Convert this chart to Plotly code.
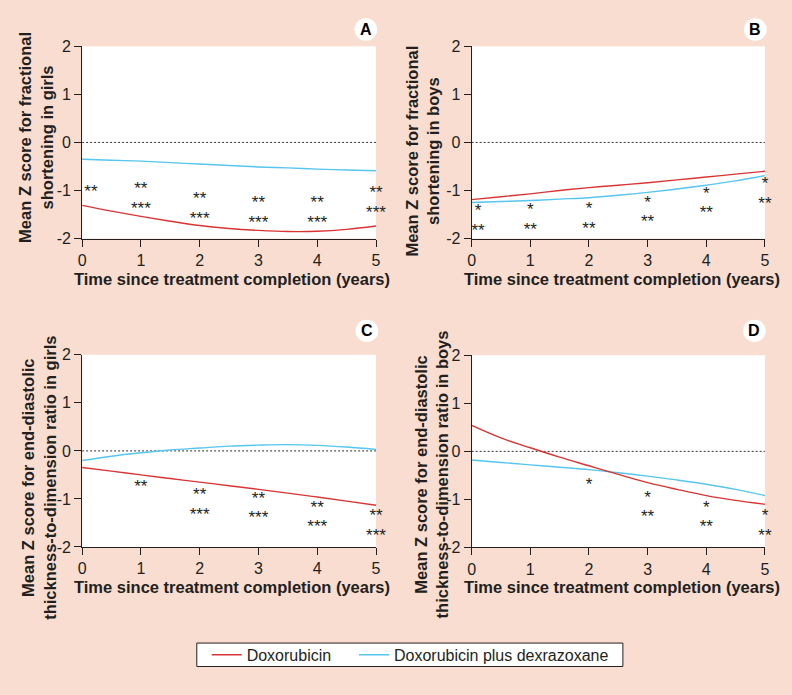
import plotly.graph_objects as go

# ---------------- data ----------------
years = [0, 1, 2, 3, 4, 5]
years_half = [0, 0.5, 1, 1.5, 2, 2.5, 3, 3.5, 4, 4.5, 5]
y_ticks = [-2, -1, 0, 1, 2]
y_ticklabels = ["-2", "-1", "0", "1", "2"]
x_ticklabels = ["0", "1", "2", "3", "4", "5"]

# Panel A: fractional shortening, girls
a_dox = [-1.31, -1.43, -1.54, -1.64, -1.73, -1.79, -1.83, -1.855, -1.85, -1.81, -1.74]
a_dex = [-0.35, -0.37, -0.39, -0.42, -0.45, -0.48, -0.51, -0.53, -0.555, -0.575, -0.59]
# Panel B: fractional shortening, boys
b_dox = [-1.19, -1.13, -1.07, -1.0, -0.94, -0.89, -0.84, -0.78, -0.72, -0.66, -0.60]
b_dex = [-1.25, -1.23, -1.21, -1.18, -1.15, -1.10, -1.04, -0.97, -0.89, -0.80, -0.69]
# Panel C: end-diastolic thickness-to-dimension ratio, girls
c_dox = [-0.345, -0.42, -0.50, -0.575, -0.65, -0.725, -0.80, -0.88, -0.96, -1.045, -1.13]
c_dex = [-0.20, -0.11, -0.04, 0.02, 0.06, 0.10, 0.12, 0.13, 0.115, 0.08, 0.03]
# Panel D: end-diastolic thickness-to-dimension ratio, boys
d_dox = [0.54, 0.28, 0.075, -0.12, -0.30, -0.48, -0.65, -0.79, -0.92, -1.02, -1.10]
d_dex = [-0.18, -0.23, -0.28, -0.33, -0.38, -0.445, -0.515, -0.595, -0.685, -0.79, -0.92]

# significance markers (x, y, text)
a_sig_x = [0.15, 1, 1, 2, 2, 3, 3, 4, 4, 5, 5]
a_sig_y = [-1.04, -0.99, -1.40, -1.20, -1.61, -1.28, -1.69, -1.28, -1.69, -1.07, -1.48]
a_sig_t = ["**", "**", "***", "**", "***", "**", "***", "**", "***", "**", "***"]

b_sig_x = [0.11, 0.11, 1, 1, 2, 2, 3, 3, 4, 4, 5, 5]
b_sig_y = [-1.45, -1.85, -1.42, -1.83, -1.40, -1.81, -1.28, -1.68, -1.08, -1.49, -0.88, -1.29]
b_sig_t = ["*", "**", "*", "**", "*", "**", "*", "**", "*", "**", "*", "**"]

c_sig_x = [1, 2, 2, 3, 3, 4, 4, 5, 5]
c_sig_y = [-0.76, -0.94, -1.34, -1.02, -1.42, -1.21, -1.61, -1.38, -1.78]
c_sig_t = ["**", "**", "***", "**", "***", "**", "***", "**", "***"]

d_sig_x = [2, 3, 3, 4, 4, 5, 5]
d_sig_y = [-0.72, -0.98, -1.38, -1.19, -1.60, -1.36, -1.77]
d_sig_t = ["*", "*", "**", "*", "**", "*", "**"]

series_names = ["Doxorubicin", "Doxorubicin plus dexrazoxane"]
y_titles = [
    "Mean Z score for fractional<br>shortening in girls",
    "Mean Z score for fractional<br>shortening in boys",
    "Mean Z score for end-diastolic<br>thickness-to-dimension ratio in girls",
    "Mean Z score for end-diastolic<br>thickness-to-dimension ratio in boys",
]
x_title = "Time since treatment completion (years)"
panel_letters = ["A", "B", "C", "D"]

# ---------------- style ----------------
W, H = 792, 695
BG = "#F8DDD0"
RED = "#DA3434"
BLUE = "#56C5EF"
INK = "#231F20"
FONT = "Liberation Sans, Arial, sans-serif"


def px_x(p):
    return p / W


def px_y(p):
    return 1 - p / H


# panel geometry in pixels: (left, right, top, bottom)
geo = [
    (79, 376.3, 39.3, 236.3),
    (473, 769.7, 39.3, 236.3),
    (79, 376.3, 355.5, 552.5),
    (473, 769.7, 356.0, 553.0),
]
ytitle_pos = [(32.5, 133), (423, 147), (35, 482), (432, 478)]
xtitle_pos = [(231, 278), (625, 278), (231, 594), (625, 594)]
badge_pos = [(366, 22), (760, 22), (367, 331), (759, 331)]

fig = go.Figure()

panels = [
    (a_dox, a_dex, a_sig_x, a_sig_y, a_sig_t),
    (b_dox, b_dex, b_sig_x, b_sig_y, b_sig_t),
    (c_dox, c_dex, c_sig_x, c_sig_y, c_sig_t),
    (d_dox, d_dex, d_sig_x, d_sig_y, d_sig_t),
]

layout_axes = {}
annotations = []
shapes = []

for i, (dox, dex, sx, sy, st) in enumerate(panels):
    n = "" if i == 0 else str(i + 1)
    xa, ya = "x" + n, "y" + n
    # reference zero line
    fig.add_trace(go.Scatter(x=[years[0], years[-1]], y=[0, 0], mode="lines",
                             line=dict(color="#333333", width=1, dash="2px,2px"),
                             xaxis=xa, yaxis=ya, showlegend=False, hoverinfo="skip"))
    fig.add_trace(go.Scatter(x=years_half, y=dex, mode="lines", name=series_names[1],
                             line=dict(color=BLUE, width=1.4, shape="spline"),
                             xaxis=xa, yaxis=ya, showlegend=(i == 0), legend="legend2"))
    fig.add_trace(go.Scatter(x=years_half, y=dox, mode="lines", name=series_names[0],
                             line=dict(color=RED, width=1.4, shape="spline"),
                             xaxis=xa, yaxis=ya, showlegend=(i == 0), legend="legend"))
    fig.add_trace(go.Scatter(x=sx, y=sy, mode="text", text=st, textposition="middle center",
                             textfont=dict(family=FONT, size=17, color=INK),
                             xaxis=xa, yaxis=ya, showlegend=False, hoverinfo="skip",
                             cliponaxis=False))

    l, r, t, b = geo[i]
    axis_common = dict(showline=True, linecolor=INK, linewidth=1, ticks="outside",
                       ticklen=7, tickwidth=1, tickcolor=INK, showgrid=False,
                       zeroline=False, tickfont=dict(family=FONT, size=16, color=INK),
                       fixedrange=True)
    layout_axes["xaxis" + n] = dict(domain=[px_x(l), px_x(r)], range=[0, 5],
                                    tickvals=years, ticktext=x_ticklabels,
                                    anchor=ya, **axis_common)
    layout_axes["yaxis" + n] = dict(domain=[px_y(b), px_y(t)], range=[-2, 2],
                                    tickvals=y_ticks, ticktext=y_ticklabels,
                                    anchor=xa, **axis_common)

    # axis titles
    tx, ty = ytitle_pos[i]
    annotations.append(dict(text=y_titles[i], x=px_x(tx), y=px_y(ty), xref="paper",
                            yref="paper", textangle=-90, showarrow=False,
                            xanchor="center", yanchor="middle",
                            font=dict(family=FONT, size=16.5, color=INK, weight="bold")))
    tx, ty = xtitle_pos[i]
    annotations.append(dict(text=x_title, x=px_x(tx), y=px_y(ty), xref="paper",
                            yref="paper", showarrow=False, xanchor="center",
                            yanchor="middle",
                            font=dict(family=FONT, size=16.5, color=INK, weight="bold")))
    # panel badge
    cx, cy = badge_pos[i]
    rr = 11.5
    shapes.append(dict(type="circle", xref="paper", yref="paper",
                       x0=px_x(cx - rr), x1=px_x(cx + rr), y0=px_y(cy + rr), y1=px_y(cy - rr),
                       fillcolor="white", line=dict(width=0), layer="below"))
    annotations.append(dict(text=panel_letters[i], x=px_x(cx), y=px_y(cy), xref="paper",
                            yref="paper", showarrow=False, xanchor="center",
                            yanchor="middle",
                            font=dict(family=FONT, size=16, color="black", weight="bold")))

# legend frame
shapes.append(dict(type="rect", xref="paper", yref="paper",
                   x0=px_x(195), x1=px_x(626), y0=px_y(675), y1=px_y(651),
                   fillcolor="white", line=dict(color=INK, width=1), layer="above"))

legend_common = dict(orientation="h", yanchor="middle", xanchor="left",
                     bgcolor="rgba(0,0,0,0)", borderwidth=0,
                     font=dict(family=FONT, size=16, color=INK))

fig.update_layout(
    width=W, height=H,
    margin=dict(l=0, r=0, t=0, b=0),
    paper_bgcolor=BG, plot_bgcolor="white",
    font=dict(family=FONT, color=INK),
    showlegend=True,
    legend=dict(x=px_x(205), y=px_y(663), **legend_common),
    legend2=dict(x=px_x(354), y=px_y(663), **legend_common),
    annotations=annotations,
    shapes=shapes,
    **layout_axes,
)

fig.write_html("out.html", config={"displayModeBar": False},
               post_script="document.body.style.margin='0';")
